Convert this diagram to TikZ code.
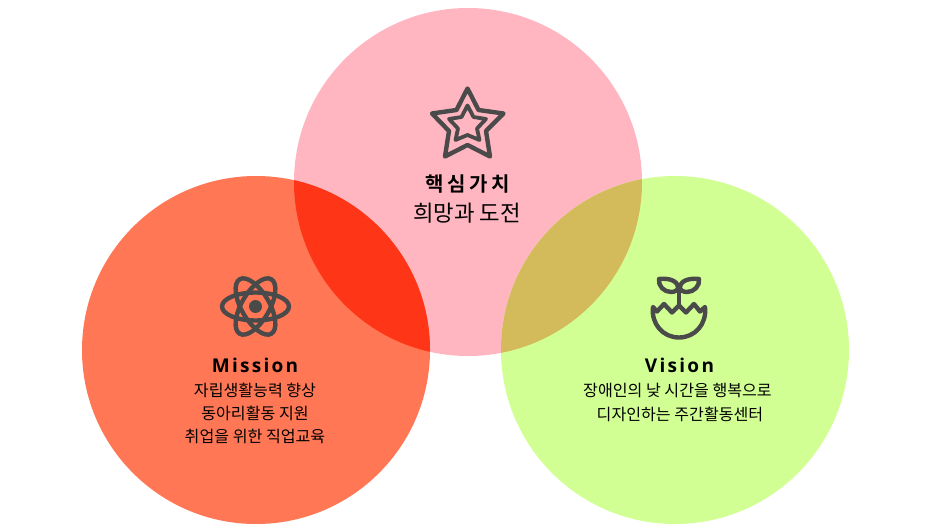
\documentclass[tikz,border=0pt]{standalone}
\usepackage{fontspec}
\setmainfont{Noto Sans CJK KR}
\newfontfamily\krw{Noto Sans CJK KR}[LetterSpace=0]
\newfontfamily\krs{Noto Sans CJK KR}[LetterSpace=17,BoldFont={Noto Sans CJK KR Bold}]
\newfontfamily\latb{Open Sans}[LetterSpace=12,BoldFont={Open Sans Bold}]
\definecolor{cTop}{HTML}{FFB6C1}
\definecolor{cLeft}{HTML}{FF7755}
\definecolor{cRight}{HTML}{D2FF94}
\definecolor{cLT}{HTML}{FF3517}
\definecolor{cRT}{HTML}{D3BA5B}
\definecolor{cIcon}{HTML}{4A4A4A}
\tikzset{
 iconline/.style={draw=cIcon,line width=4.4pt,line join=round,line cap=round},
 body/.style={font=\krw\fontsize{16.1}{16}\selectfont,text=black,inner sep=0pt,anchor=center},
 title/.style={font=\latb\bfseries\fontsize{19}{19}\selectfont,text=black,inner sep=0pt,anchor=center}
}
\begin{document}
\begin{tikzpicture}[x=1pt,y=-1pt]
\useasboundingbox (0,0) rectangle (930,532);
\fill[white] (0,0) rectangle (930,532);
\fill[cTop] (468,182) circle (174);
\fill[cLeft] (256,350) circle (174);
\fill[cRight] (675,350) circle (174);
\begin{scope}
\clip (468,182) circle (174);
\fill[cLT] (256,350) circle (174);
\fill[cRT] (675,350) circle (174);
\end{scope}
% star
\draw[iconline] (467.5,88.5) -- (478.5,110) -- (503.5,113.5) -- (486,131) -- (490,156.5) -- (467.5,145) -- (445,156.5) -- (449,131) -- (432,113.5) -- (456.5,110) -- cycle;
\draw[iconline,line width=3.8pt] (467.5,105.5) -- (473.5,117) -- (486,119) -- (477,128.5) -- (479.5,140) -- (467.5,135) -- (455.5,140) -- (458,128.5) -- (449,119) -- (461.5,117) -- cycle;
% atom
\draw[iconline] (255.5,306.5) ellipse [x radius=33.5,y radius=14];
\draw[iconline,rotate around={60:(255.5,306.5)}] (255.5,306.5) ellipse [x radius=31.5,y radius=14];
\draw[iconline,rotate around={-60:(255.5,306.5)}] (255.5,306.5) ellipse [x radius=31.5,y radius=14];
\fill[cIcon] (255.5,306.5) circle (6.5);
% sprout
\draw[iconline] (653,307) -- (657,311.5) -- (664,304) -- (672,312.5) -- (679,305.5) -- (686,312.5) -- (694,304) -- (700,311.5) -- (705,307)
  .. controls (707,324) and (695,337.5) .. (679,337.5) .. controls (663,337.5) and (651,324) .. (653,307) -- cycle;
\draw[iconline] (679,305) -- (679,292);
\draw[iconline] (659,279) .. controls (668,278) and (677,280) .. (678,287) .. controls (678.5,290) and (675,292) .. (671,292) .. controls (664,292) and (658,286) .. (659,279) -- cycle;
\draw[iconline] (699,279) .. controls (690,278) and (681,280) .. (680,287) .. controls (679.5,290) and (683,292) .. (687,292) .. controls (694,292) and (700,286) .. (699,279) -- cycle;
% text
\node[inner sep=0pt,text=black,font=\krs\bfseries\fontsize{20}{20}\selectfont] (t1) at (467.5,184) {핵심가치};
\node[inner sep=0pt,text=black,font=\krw\fontsize{22.3}{22}\selectfont] (t2) at (467,213) {희망과 도전};
\node[title] (m1) at (255,365) {Mission};
\node[body] (m2) at (255,390) {자립생활능력 향상};
\node[body] (m3) at (255,413) {동아리활동 지원};
\node[body] (m4) at (255,436) {취업을 위한 직업교육};
\node[title] (v1) at (679.5,365) {Vision};
\node[body] (v2) at (677.5,390) {장애인의 낮 시간을 행복으로};
\node[body] (v3) at (680,414) {디자인하는 주간활동센터};
\end{tikzpicture}
\end{document}
